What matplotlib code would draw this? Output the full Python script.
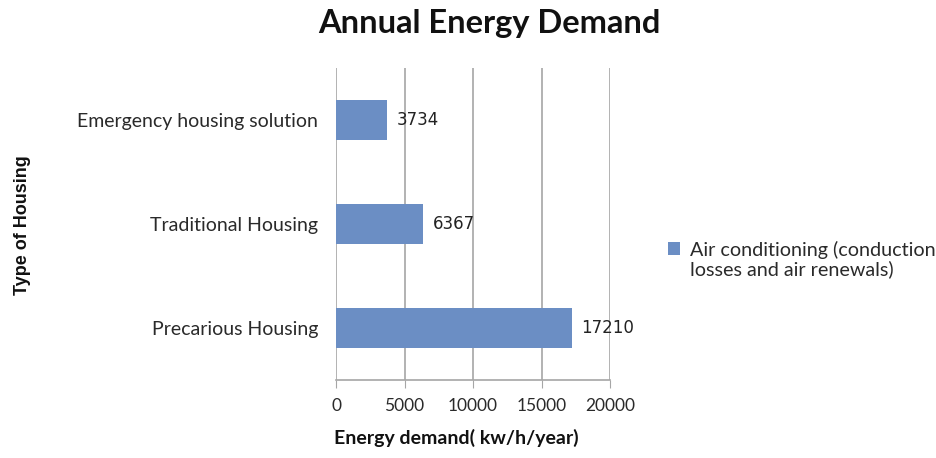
import matplotlib.pyplot as plt

housing = ["Precarious Housing", "Traditional Housing", "Emergency housing solution"]
demand = [17210, 6367, 3734]
x_ticks = [0, 5000, 10000, 15000, 20000]
series_name = "Air conditioning (conduction\nlosses and air renewals)"

plt.rcParams['font.family'] = ['Lato', 'DejaVu Sans']

fig = plt.figure(figsize=(9.37, 4.58), dpi=100)
ax = fig.add_axes([0.3586, 0.1703, 0.2925, 0.6812])

bar_color = '#6b8ec4'
grid_color = '#a6a6a6'
text_color = '#2a2a2a'

pos = range(len(housing))
bars = ax.barh(pos, demand, height=0.39, color=bar_color, zorder=3)

for y, v in zip(pos, demand):
    ax.text(v + 700, y, str(v), va='center', ha='left', fontsize=12,
            family=['DejaVu Sans'], color='#222222', zorder=4)

ax.set_xlim(0, 20000)
ax.set_ylim(-0.5, len(housing) - 0.5)
ax.set_xticks(x_ticks)
ax.set_xticklabels([str(t) for t in x_ticks], fontsize=12.5, color=text_color)
ax.set_yticks(list(pos))
ax.set_yticklabels(housing, fontsize=14, color=text_color)
ax.tick_params(axis='y', length=0, pad=13)
ax.tick_params(axis='x', length=6, color=grid_color, pad=7, direction='out')

ax.xaxis.grid(True, color=grid_color, linewidth=1.2, zorder=0)
for s in ['top', 'right', 'left']:
    ax.spines[s].set_visible(False)
ax.spines['bottom'].set_color(grid_color)
ax.spines['bottom'].set_linewidth(1.2)

fig.text(0.522, 0.948, "Annual Energy Demand", ha='center', va='center',
         fontsize=23.5, fontweight='bold', color='#111111')
fig.text(0.487, 0.044, "Energy demand( kw/h/year)", ha='center', va='center',
         fontsize=14, fontweight='bold', color='#111111')
fig.text(0.024, 0.509, "Type of Housing", ha='center', va='center', rotation=90,
         fontsize=13, fontweight='bold', color='#111111',
         family=['Liberation Sans', 'DejaVu Sans'])

leg = fig.legend([bars], [series_name], loc='center left',
                 bbox_to_anchor=(0.694, 0.433), frameon=False, fontsize=14.2,
                 handlelength=0.6, handleheight=0.6, handletextpad=0.5,
                 labelcolor=text_color)
for t in leg.get_texts():
    t.set_linespacing(1.05)
# put the square next to the first line, as in the original
handle = leg.legend_handles[0]
handle.set_y(handle.get_y() + 7.9)

fig.savefig("out.png", dpi=100)
